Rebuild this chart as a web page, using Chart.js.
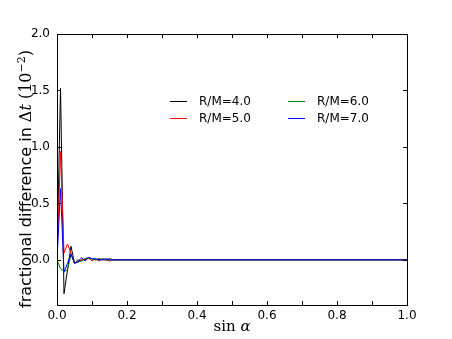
<!DOCTYPE html>
<html lang="en">
<head>
<meta charset="UTF-8">
<title>fractional difference</title>
<script src="https://cdn.jsdelivr.net/npm/chart.js"></script>
<style>
  body { margin: 0; background: #fff; }
</style>
</head>
<body>
<canvas id="myChart" width="452" height="339"></canvas>
<script>
// sin(alpha) sample points
const sinAlpha = [0, 0.01, 0.02, 0.03, 0.04, 0.05, 0.06, 0.07, 0.08, 0.09, 0.10,
  0.11, 0.12, 0.13, 0.14, 0.15, 0.16, 0.17, 0.18, 0.19, 0.20,
  0.25, 0.30, 0.35, 0.40, 0.45, 0.50, 0.55, 0.60, 0.65, 0.70, 0.75, 0.80, 0.85, 0.90, 0.95, 1.00];

// fractional difference (10^-2) for each R/M
const rm40 = [0, 1.52, -0.30, -0.09, 0.12, -0.03, 0.00, -0.01, 0.01, 0.02, 0.01,
  0.00, 0.01, 0.00, 0.00, 0.01, 0.00, 0.00, 0.00, 0.00, 0.00,
  0, 0, 0, 0, 0, 0, 0, 0, 0, 0, 0, 0, 0, 0, 0, 0];
const rm50 = [0, 0.96, 0.06, 0.14, 0.06, -0.03, -0.02, 0.00, 0.00, 0.02, -0.01,
  0.01, -0.01, 0.01, 0.00, -0.01, 0.00, 0.00, 0.00, 0.00, 0.00,
  0, 0, 0, 0, 0, 0, 0, 0, 0, 0, 0, 0, 0, 0, 0, 0];
const rm60 = [0, -0.08, -0.10, -0.09, 0.05, -0.03, -0.02, -0.01, 0.01, 0.01, 0.01,
  0.00, 0.00, 0.01, 0.00, 0.00, 0.00, 0.00, 0.00, 0.00, 0.00,
  0, 0, 0, 0, 0, 0, 0, 0, 0, 0, 0, 0, 0, 0, 0, 0];
const rm70 = [0, 0.63, -0.11, -0.03, 0.05, -0.03, -0.02, 0.02, -0.01, 0.02, 0.01,
  0.01, 0.00, 0.00, 0.01, 0.00, 0.00, 0.00, 0.00, 0.00, 0.00,
  0, 0, 0, 0, 0, 0, 0, 0, 0, 0, 0, 0, 0, 0, 0, 0];

const seriesLabels = ['R/M=4.0', 'R/M=5.0', 'R/M=6.0', 'R/M=7.0'];
const seriesColors = ['#000000', '#ff0000', '#008000', '#0000ff'];
const seriesValues = [rm40, rm50, rm60, rm70];

const xTicks = [0, 0.2, 0.4, 0.6, 0.8, 1.0];
const xMinorTicks = [0, 0.1, 0.2, 0.3, 0.4, 0.5, 0.6, 0.7, 0.8, 0.9, 1.0];
const yTicks = [0, 0.5, 1.0, 1.5, 2.0];

// frame, inward ticks, axis titles and legend drawn like matplotlib
const decorPlugin = {
  id: 'decor',
  afterDraw(chart) {
    const ctx = chart.ctx;
    const a = chart.chartArea;
    const xs = chart.scales.x, ys = chart.scales.y;
    ctx.save();
    ctx.strokeStyle = '#000';
    ctx.lineWidth = 1;
    ctx.strokeRect(Math.round(a.left) + 0.5, Math.round(a.top) + 0.5,
      Math.round(a.right - a.left), Math.round(a.bottom - a.top));
    ctx.beginPath();
    xMinorTicks.forEach(v => {
      const px = Math.round(xs.getPixelForValue(v)) + 0.5;
      ctx.moveTo(px, a.bottom); ctx.lineTo(px, a.bottom - 4);
      ctx.moveTo(px, a.top); ctx.lineTo(px, a.top + 4);
    });
    yTicks.forEach(v => {
      const py = Math.round(ys.getPixelForValue(v)) + 0.5;
      ctx.moveTo(a.left, py); ctx.lineTo(a.left + 4, py);
      ctx.moveTo(a.right, py); ctx.lineTo(a.right - 4, py);
    });
    ctx.stroke();

    // x title: sin α
    ctx.fillStyle = '#000';
    ctx.textBaseline = 'alphabetic';
    const p1 = 'sin ';
    ctx.font = 'italic 15px "DejaVu Serif"';
    const wA = ctx.measureText('α').width;
    ctx.font = '15px "DejaVu Serif"';
    const w1 = ctx.measureText(p1).width;
    let x0 = (a.left + a.right) / 2 - (w1 + wA) / 2;
    ctx.textAlign = 'left';
    ctx.fillText(p1, x0, 331);
    ctx.font = 'italic 15px "DejaVu Serif"';
    ctx.fillText('α', x0 + w1, 331);

    // y title
    ctx.save();
    ctx.translate(31, 179);
    ctx.rotate(-Math.PI / 2);
    const parts = [
      { t: 'fractional difference in ', f: '16px "DejaVu Sans"', dy: 0 },
      { t: 'Δ', f: '16px "DejaVu Serif"', dy: 0 },
      { t: 't', f: 'italic 16px "DejaVu Serif"', dy: 0 },
      { t: ' (10', f: '16px "DejaVu Serif"', dy: 0 },
      { t: '−2', f: '11px "DejaVu Serif"', dy: -6 },
      { t: ')', f: '16px "DejaVu Serif"', dy: 0 }
    ];
    let total = 0;
    parts.forEach(p => { ctx.font = p.f; p.w = ctx.measureText(p.t).width; total += p.w; });
    let cx = -total / 2;
    parts.forEach(p => { ctx.font = p.f; ctx.fillText(p.t, cx, p.dy); cx += p.w; });
    ctx.restore();

    // legend, two columns without frame
    const pos = [[170, 101], [170, 118], [288, 101], [288, 118]];
    ctx.font = '12px "DejaVu Sans"';
    ctx.textBaseline = 'middle';
    chart.data.datasets.forEach((ds, i) => {
      const [lx, ly] = pos[i];
      ctx.strokeStyle = ds.borderColor;
      ctx.beginPath();
      ctx.moveTo(lx, ly + 0.5); ctx.lineTo(lx + 17, ly + 0.5);
      ctx.stroke();
      ctx.fillStyle = '#000';
      ctx.fillText(ds.label, lx + 29, ly + 1);
    });
    ctx.restore();
  }
};

const ctx = document.getElementById('myChart').getContext('2d');
new Chart(ctx, {
  type: 'line',
  data: {
    datasets: seriesValues.map((vals, i) => ({
      label: seriesLabels[i],
      data: vals.map((v, j) => ({ x: sinAlpha[j], y: v })),
      borderColor: seriesColors[i],
      borderWidth: 1,
      pointRadius: 0,
      fill: false,
      tension: 0,
      order: 4 - i
    }))
  },
  options: {
    responsive: false,
    animation: false,
    layout: { padding: { left: 0, top: 34, right: 45, bottom: 0 } },
    plugins: { legend: { display: false }, tooltip: { enabled: false } },
    scales: {
      x: {
        type: 'linear', min: 0, max: 1,
        grid: { display: false, drawTicks: false },
        border: { display: false },
        afterFit: s => { s.height = 34; },
        afterBuildTicks: s => { s.ticks = xTicks.map(v => ({ value: v })); },
        ticks: {
          padding: 4, color: '#000', maxRotation: 0,
          font: { family: 'DejaVu Sans', size: 12 },
          callback: v => v.toFixed(1)
        }
      },
      y: {
        type: 'linear', min: -0.4, max: 2.0,
        grid: { display: false, drawTicks: false },
        border: { display: false },
        afterFit: s => { s.width = 57; },
        afterBuildTicks: s => { s.ticks = yTicks.map(v => ({ value: v })); },
        ticks: {
          padding: 7, color: '#000',
          font: { family: 'DejaVu Sans', size: 12 },
          callback: v => v.toFixed(1)
        }
      }
    }
  },
  plugins: [decorPlugin]
});
</script>
</body>
</html>
